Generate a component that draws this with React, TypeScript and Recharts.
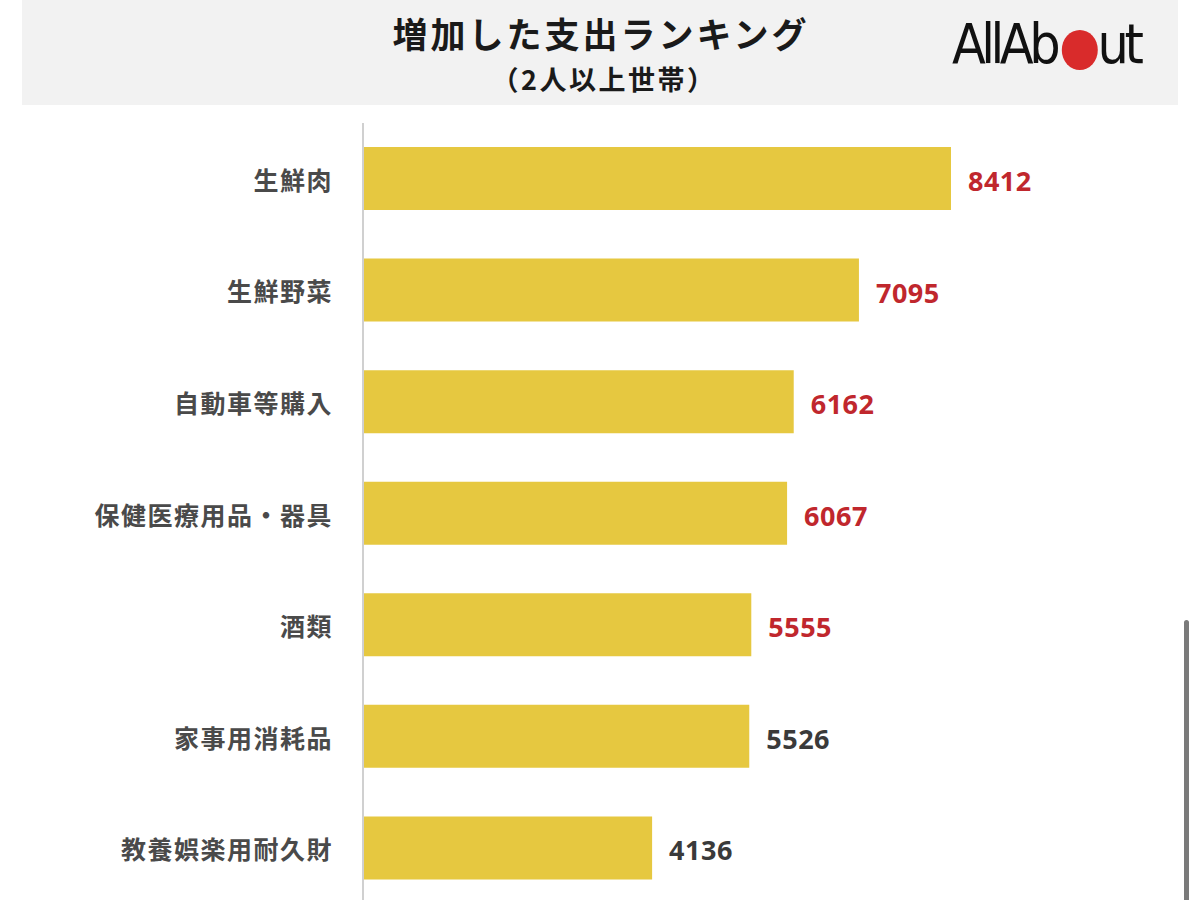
import React from "react";
import { BarChart, Bar, XAxis, YAxis, LabelList, Cell } from "recharts";

const categories = ["生鮮肉", "生鮮野菜", "自動車等購入", "保健医療用品・器具", "酒類", "家事用消耗品", "教養娯楽用耐久財"];
const values = [8412, 7095, 6162, 6067, 5555, 5526, 4136];
const highlighted = [true, true, true, true, true, false, false];

const title = "増加した支出ランキング";
const subtitle = "（2人以上世帯）";

const data = categories.map((name, i) => ({ name, value: values[i], hi: highlighted[i] }));

const FONT = "'Noto Sans CJK JP', 'Noto Sans', sans-serif";

const ValueLabel = (props: any) => {
  const { x, y, width, height, value, index } = props;
  const hi = highlighted[index];
  return (
    <text
      x={x + width + 17}
      y={y + height / 2 + 2}
      dominantBaseline="central"
      fontFamily="'Open Sans', 'Noto Sans', sans-serif"
      fontWeight={700}
      fontSize={27}
      letterSpacing={0.5}
      fill={hi ? "#c0272d" : "#3a3a3a"}
    >
      {value}
    </text>
  );
};

const CatTick = (props: any) => {
  const { x, y, payload } = props;
  return (
    <text
      x={x + 3}
      y={y}
      textAnchor="end"
      dominantBaseline="central"
      fontFamily={FONT}
      fontWeight={700}
      fontSize={25}
      letterSpacing={1.5}
      fill="#4a4a4a"
    >
      {payload.value}
    </text>
  );
};

export default function App() {
  return (
    <div
      style={{
        position: "absolute",
        left: 0,
        top: 0,
        width: 1200,
        height: 900,
        background: "#fff",
        overflow: "hidden",
        fontFamily: FONT,
      }}
    >
      <div
        style={{
          position: "absolute",
          left: 22,
          top: 0,
          width: 1156,
          height: 105,
          background: "#f2f2f2",
        }}
      />
      <div
        style={{
          position: "absolute",
          left: 1,
          width: 1200,
          top: 11.5,
          height: 42,
          textAlign: "center",
          fontSize: 35,
          fontWeight: 700,
          letterSpacing: 3,
          color: "#1a1a1a",
          lineHeight: "42px",
        }}
      >
        {title}
      </div>
      <div
        style={{
          position: "absolute",
          left: 4,
          width: 1200,
          top: 62.5,
          height: 32,
          textAlign: "center",
          fontSize: 27,
          fontWeight: 700,
          letterSpacing: 2.5,
          color: "#1a1a1a",
          lineHeight: "32px",
        }}
      >
        {subtitle}
      </div>
      <div
        style={{
          position: "absolute",
          left: 952,
          top: 8,
          height: 72,
          display: "flex",
          alignItems: "center",
          fontFamily: "'DejaVu Sans', sans-serif",
          fontWeight: 400,
          fontSize: 55,
          letterSpacing: -5,
          color: "#111",
          transform: "scaleX(0.9)",
          transformOrigin: "left center",
        }}
      >
        <span>AllAb</span>
        <span
          style={{
            display: "inline-block",
            width: 40,
            height: 40,
            borderRadius: 20,
            background: "#d92b2b",
            margin: "12px 0px 0 6px",
          }}
        />
        <span>ut</span>
      </div>
      <div
        style={{
          position: "absolute",
          left: 1184,
          top: 620,
          width: 5,
          height: 290,
          borderRadius: 3,
          background: "#7a7a7a",
        }}
      />
      <div style={{ position: "absolute", left: 0, top: 0 }}>
        <BarChart
          width={1200}
          height={904}
          data={data}
          layout="vertical"
          margin={{ top: 123, right: 138, bottom: 0, left: 0 }}
          barCategoryGap={0}
        >
          <XAxis type="number" domain={[0, 10000]} hide />
          <YAxis
            type="category"
            dataKey="name"
            width={363}
            tickLine={false}
            tickSize={0}
            tickMargin={33}
            axisLine={{ stroke: "#d0d0d0", strokeWidth: 2 }}
            tick={<CatTick />}
            interval={0}
          />
          <Bar dataKey="value" barSize={63} fill="#e6c840" isAnimationActive={false}>
            {data.map((d, i) => (
              <Cell key={i} fill="#e6c840" />
            ))}
            <LabelList dataKey="value" content={<ValueLabel />} />
          </Bar>
        </BarChart>
      </div>
    </div>
  );
}
